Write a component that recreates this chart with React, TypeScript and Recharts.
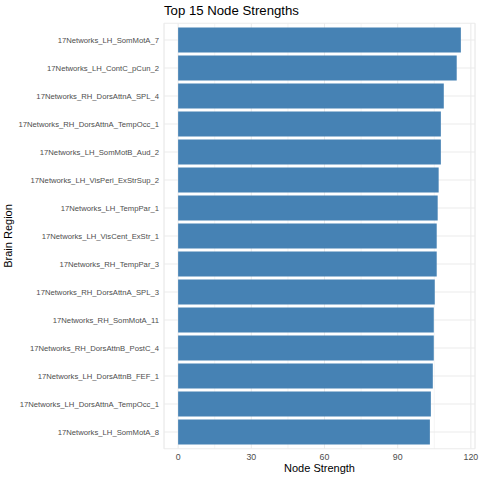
import React from "react";
import {
  BarChart,
  Bar,
  XAxis,
  YAxis,
  CartesianGrid,
  Label,
} from "recharts";

document.body.style.margin = "0";

// regiones ordenadas de mayor a menor fuerza
const regions = [
  "17Networks_LH_SomMotA_7",
  "17Networks_LH_ContC_pCun_2",
  "17Networks_RH_DorsAttnA_SPL_4",
  "17Networks_RH_DorsAttnA_TempOcc_1",
  "17Networks_LH_SomMotB_Aud_2",
  "17Networks_LH_VisPeri_ExStrSup_2",
  "17Networks_LH_TempPar_1",
  "17Networks_LH_VisCent_ExStr_1",
  "17Networks_RH_TempPar_3",
  "17Networks_RH_DorsAttnA_SPL_3",
  "17Networks_RH_SomMotA_11",
  "17Networks_RH_DorsAttnB_PostC_4",
  "17Networks_LH_DorsAttnB_FEF_1",
  "17Networks_LH_DorsAttnA_TempOcc_1",
  "17Networks_LH_SomMotA_8",
];

const strengths = [
  115.9, 114.2, 108.9, 107.7, 107.7, 106.8, 106.4, 106.0, 106.0, 105.2, 104.8,
  104.8, 104.4, 103.6, 103.2,
];

const majorTicks = [0, 30, 60, 90, 120];
const minorTicks = [15, 45, 75, 105];

const data = regions.map((name, i) => ({ name, value: strengths[i] }));

// expansión estilo ggplot (5% a cada lado)
const maxVal = Math.max(...strengths);
const domain: [number, number] = [-0.05 * maxVal, maxVal * 1.05];

const xTickStyle = { fontSize: 8.8, fill: "#4D4D4D" };
const yTickStyle = { fontSize: 7.7, fill: "#4D4D4D" };

const App: React.FC = () => {
  return (
    <div
      style={{
        position: "relative",
        width: 480,
        height: 480,
        fontFamily: "'Liberation Sans', Arial, sans-serif",
        background: "#fff",
      }}
    >
      <div
        style={{
          position: "absolute",
          left: 164,
          top: 4,
          fontSize: 13.2,
          lineHeight: 1,
          color: "#000",
        }}
      >
        Top 15 Node Strengths
      </div>
      <BarChart
        width={480}
        height={480}
        data={data}
        layout="vertical"
        margin={{ top: 23.2, right: 5, bottom: 0, left: 0 }}
        barCategoryGap="5%"
      >
        <CartesianGrid
          xAxisId="minor"
          horizontal={false}
          stroke="#EBEBEB"
          strokeWidth={0.55}
        />
        <CartesianGrid stroke="#EBEBEB" strokeWidth={1.07} />
        <XAxis
          type="number"
          domain={domain}
          allowDataOverflow
          ticks={majorTicks}
          interval={0}
          axisLine={false}
          tickLine={false}
          tickSize={0}
          tickMargin={5}
          tick={xTickStyle}
          height={31.2}
        >
          <Label
            value="Node Strength"
            position="insideBottom"
            offset={8}
            style={{ fontSize: 11, fill: "#000" }}
          />
        </XAxis>
        <XAxis
          xAxisId="minor"
          type="number"
          domain={domain}
          allowDataOverflow
          ticks={minorTicks}
          hide
        />
        <YAxis
          type="category"
          dataKey="name"
          width={164}
          interval={0}
          axisLine={false}
          tickLine={false}
          tickSize={0}
          tickMargin={5}
          tick={yTickStyle}
          padding={{ top: 2.8, bottom: 2.8 }}
        >
          <Label
            value="Brain Region"
            angle={-90}
            position="insideLeft"
            offset={8.6}
            style={{ fontSize: 11, fill: "#000", textAnchor: "middle" }}
          />
        </YAxis>
        <Bar dataKey="value" fill="#4682B4" isAnimationActive={false} />
      </BarChart>
    </div>
  );
};

export default App;
